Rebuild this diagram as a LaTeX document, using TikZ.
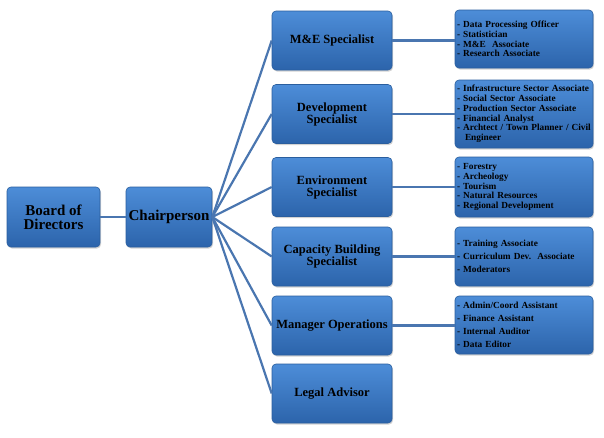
\documentclass[tikz,border=0pt]{standalone}
\usepackage{fontspec}
\setmainfont{Liberation Serif}
\usetikzlibrary{positioning,shadows}
\definecolor{kekfel}{HTML}{4D8DD8}
\definecolor{kekle}{HTML}{2C64AB}
\definecolor{kekszel}{HTML}{2A5E9E}
\definecolor{kekvonal}{HTML}{4A76B0}
\tikzset{
  doboz/.style={rounded corners=4pt,draw=kekszel,line width=0.6pt,
    top color=kekfel,bottom color=kekle,
    drop shadow={shadow xshift=1pt,shadow yshift=-1.5pt,opacity=0.35},
    inner sep=2pt,align=center,font=\bfseries},
  fo/.style={doboz,minimum height=60pt,font=\bfseries\fontsize{15}{14}\selectfont},
  poszt/.style={doboz,minimum width=120pt,minimum height=59pt,
    font=\bfseries\fontsize{12.5}{12}\selectfont},
  lista/.style={doboz,minimum width=138pt,text width=134pt,align=left,
    inner sep=2pt,font=\bfseries\fontsize{9.3}{9.8}\selectfont},
  ag/.style={draw=kekvonal,line width=2.2pt},
}
\begin{document}
\begin{tikzpicture}[x=1pt,y=-1pt]
  \useasboundingbox (0,0) rectangle (604,437);
  % vezetes
  \node[fo,minimum width=93pt] (board) at (53.5,217) {Board of\\Directors};
  \node[fo,minimum width=86pt] (chair) at (169,217) {Chairperson};
  % szakertok
  \node[poszt] (me)  at (332,40.5)  {M\&E Specialist};
  \node[poszt] (dev) at (332,114)   {Development\\Specialist};
  \node[poszt] (env) at (332,187)   {Environment\\Specialist};
  \node[poszt] (cap) at (332,256.5) {Capacity Building\\Specialist};
  \node[poszt] (man) at (332,325.5) {Manager Operations};
  \node[poszt] (leg) at (332,393.5) {Legal Advisor};
  % beosztottak
  \node[lista,minimum height=58pt] (meL) at (524,39)
    {- Data Processing Officer\\- Statistician\\- M\&E\ \ Associate\\- Research Associate};
  \node[lista,minimum height=68pt] (devL) at (524,114)
    {\mbox{- Infrastructure Sector Associate}\\- Social Sector Associate\\- Production Sector Associate\\- Financial Analyst\\\mbox{- Archtect / Town Planner / Civil}\\\hspace*{8pt}Engineer};
  \node[lista,minimum height=60pt] (envL) at (524,187)
    {- Forestry\\- Archeology\\- Tourism\\- Natural Resources\\- Regional Development};
  \node[lista,minimum height=59pt,font=\bfseries\fontsize{9.3}{13}\selectfont] (capL) at (524,256.5)
    {- Training Associate\\- Curriculum Dev.\ \ Associate\\- Moderators};
  \node[lista,minimum height=58pt,font=\bfseries\fontsize{9.3}{13}\selectfont] (manL) at (524,325)
    {- Admin/Coord Assistant\\- Finance Assistant\\- Internal Auditor\\- Data Editor};
  % vonalak
  \draw[ag] (board.east) -- (chair.west);
  \draw[ag] (chair.east) -- (me.west);
  \draw[ag] (chair.east) -- (dev.west);
  \draw[ag] (chair.east) -- (env.west);
  \draw[ag] (chair.east) -- (cap.west);
  \draw[ag] (chair.east) -- (man.west);
  \draw[ag] (chair.east) -- (leg.west);
  \draw[ag] (me.east) -- (me.east -| meL.west);
  \draw[ag] (dev.east) -- (dev.east -| devL.west);
  \draw[ag] (env.east) -- (env.east -| envL.west);
  \draw[ag] (cap.east) -- (cap.east -| capL.west);
  \draw[ag] (man.east) -- (man.east -| manL.west);
\end{tikzpicture}
\end{document}
